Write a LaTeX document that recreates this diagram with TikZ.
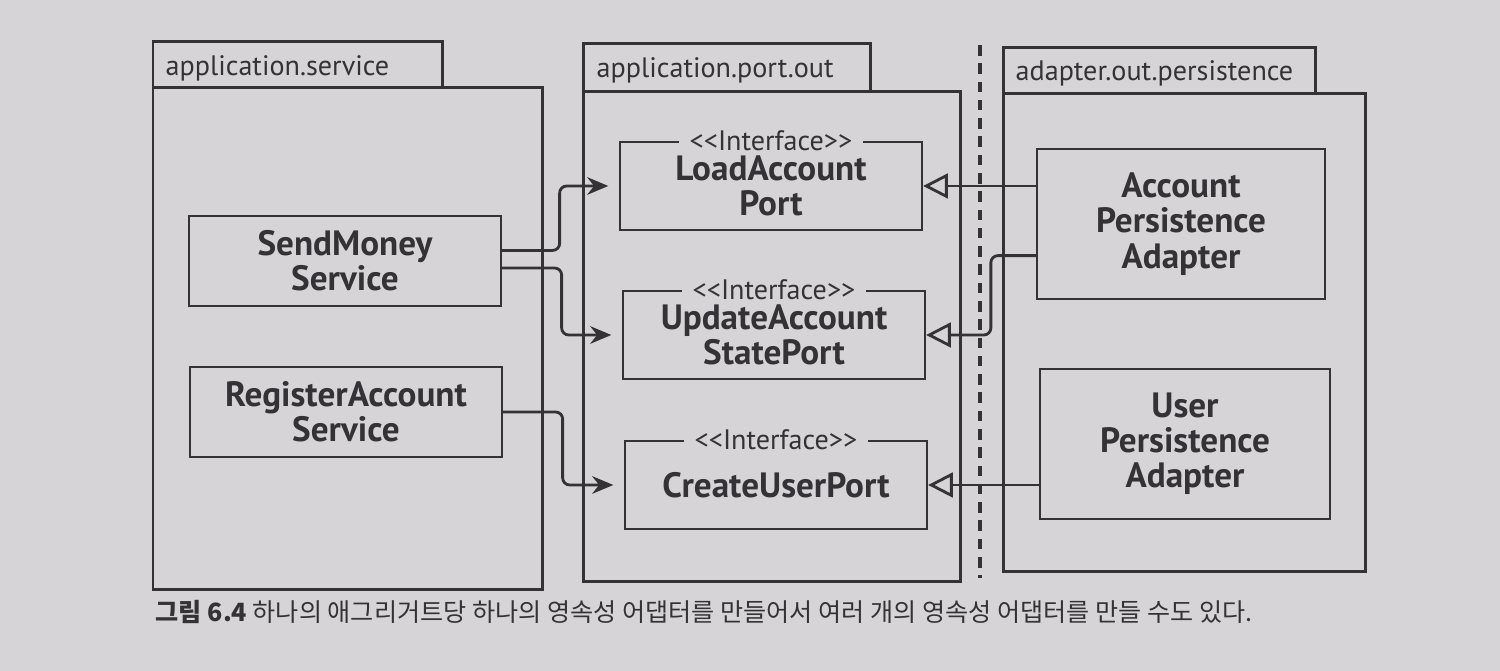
\documentclass[tikz,border=0pt]{standalone}
\usepackage{fontspec}
\setmainfont{PT Sans}
\newfontfamily\kr{Noto Sans CJK KR}
\usetikzlibrary{arrows.meta}
\definecolor{paper}{RGB}{214,212,215}
\definecolor{ink}{RGB}{52,50,54}
\begin{document}
\begin{tikzpicture}[
    x=0.01cm, y=-0.01cm,
    pkg/.style={draw=ink,line width=0.85pt},
    pkglabel/.style={anchor=west,text=ink,font=\fontsize{8}{9}\selectfont,inner sep=0pt},
    box/.style={draw=ink,line width=0.6pt,fill=paper,text=ink,align=center,
                font=\fontsize{10}{10}\selectfont\bfseries},
    stereo/.style={fill=paper,text=ink,inner xsep=3pt,inner ysep=0.3pt,font=\fontsize{8}{9}\selectfont},
    call/.style={draw=ink,line width=0.8pt,rounded corners=2pt,-{Stealth[length=6pt,width=5pt]},shorten >=3pt},
    impl/.style={draw=ink,line width=0.8pt,rounded corners=2pt,-{Triangle[open,length=7pt,width=7pt]}}
  ]
  \fill[paper] (0,0) rectangle (1500,671);
  \useasboundingbox (0,0) rectangle (1500,671);

  % packages
  \draw[pkg] (153,42) rectangle (442,88);
  \draw[pkg] (153,88) rectangle (542,590);
  \node[pkglabel] (svcpkg) at (165,68) {application.service};

  \draw[pkg] (583,44) rectangle (870,92);
  \draw[pkg] (583,92) rectangle (960,582);
  \node[pkglabel] (portpkg) at (596,70) {application.port.out};

  \draw[pkg] (1003,48) rectangle (1315,94);
  \draw[pkg] (1003,94) rectangle (1365,572);
  \node[pkglabel] (adapterpkg) at (1015,73) {adapter.out.persistence};

  \draw[ink,line width=1pt,dash pattern=on 3pt off 2.2pt] (980,45) -- (980,578);

  % services
  \node[box,minimum width=3.11cm,minimum height=0.9cm] (send) at (345,261) {SendMoney\\Service};
  \node[box,minimum width=3.11cm,minimum height=0.9cm] (register) at (346,412) {RegisterAccount\\Service};

  % ports
  \foreach \name/\x/\y/\txt in {load/771/186/{LoadAccount\\Port},
                                update/774/335/{UpdateAccount\\StatePort},
                                create/776/485/{CreateUserPort}} {
    \node[box,minimum width=3.02cm,minimum height=0.88cm] (\name) at (\x,\y) {\txt};
    \node[stereo] (\name-st) at (\name.north) {{<}{<}Interface{>}{>}};
  }

  % adapters
  \node[box,minimum width=2.88cm,minimum height=1.5cm] (acct) at (1181,224) {Account\\Persistence\\Adapter};
  \node[box,minimum width=2.9cm,minimum height=1.5cm] (user) at (1185,444) {User\\Persistence\\Adapter};

  % connectors
  \draw[call] ([yshift=3pt]send.east) -- ++(58,0) |- (load.west);
  \draw[call] ([yshift=-2pt]send.east) -- ++(60,0) |- (update.west);
  \draw[call] (register.east) -- ++(60,0) |- (create.west);

  \draw[impl] (acct.west |- load.east) -- (load.east);
  \draw[impl] ([yshift=-9pt]acct.west) -- ++(-45,0) |- (update.east);
  \draw[impl] (user.west |- create.east) -- (create.east);

  \node[anchor=west,text=ink,inner sep=0pt,font=\kr\fontsize{7.15}{8}\selectfont] (caption) at (155,612)
    {\textbf{그림 6.4} 하나의 애그리거트당 하나의 영속성 어댑터를 만들어서 여러 개의 영속성 어댑터를 만들 수도 있다.};
\end{tikzpicture}
\end{document}
